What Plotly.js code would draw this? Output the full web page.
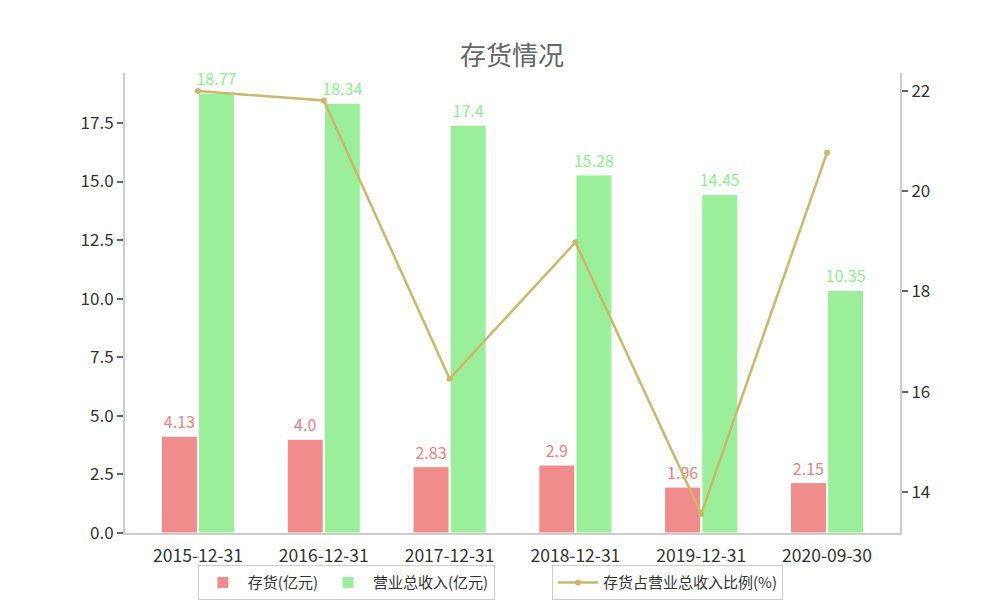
<!DOCTYPE html>
<html>
<head>
<meta charset="utf-8">
<script src="https://cdn.plot.ly/plotly-3.0.1.min.js"></script>
<style>
  body { margin: 0; background: #fff; }
  #chart { width: 1000px; height: 600px; }
</style>
</head>
<body>
<div id="chart"></div>
<script>
const dates = ['2015-12-31', '2016-12-31', '2017-12-31', '2018-12-31', '2019-12-31', '2020-09-30'];
const inventory = [4.13, 4.0, 2.83, 2.9, 1.96, 2.15];
const revenue = [18.77, 18.34, 17.4, 15.28, 14.45, 10.35];
const ratio = [22.0, 21.81, 16.26, 18.98, 13.56, 20.77];

const font = '"Noto Sans CJK SC", "Noto Sans", sans-serif';

// python-style number labels (4.0 stays 4.0)
const label = v => Number.isInteger(v) ? v.toFixed(1) : String(v);

const invTrace = {
  x: dates, y: inventory, type: 'bar', name: '存货(亿元)',
  marker: { color: '#F08C8C', line: { color: '#fff', width: 1 } },
  text: inventory.map(label), textposition: 'outside', constraintext: 'none',
  textfont: { color: '#F08080', size: 16 },
  cliponaxis: false, legend: 'legend', legendgroup: 'inv'
};

const revTrace = {
  x: dates, y: revenue, type: 'bar', name: '营业总收入(亿元)',
  marker: { color: '#9CEF9A', line: { color: '#fff', width: 1 } },
  text: revenue.map(label), textposition: 'outside', constraintext: 'none',
  textfont: { color: '#90EE90', size: 16 },
  cliponaxis: false, legend: 'legend', legendgroup: 'rev'
};

const ratioTrace = {
  x: dates, y: ratio, type: 'scatter', mode: 'lines+markers', yaxis: 'y2',
  name: '存货占营业总收入比例(%)',
  line: { color: '#CBB86C', width: 2.5 },
  marker: { color: '#CBB86C', size: 6 },
  cliponaxis: false, legend: 'legend2'
};

const layout = {
  width: 1000, height: 600,
  margin: { l: 125, r: 100, t: 73, b: 67 },
  paper_bgcolor: '#fff', plot_bgcolor: '#fff',
  font: { family: font, size: 16, color: '#333' },
  title: {
    text: '存货情况', x: 0.512, xanchor: 'center', y: 0.907, yanchor: 'middle',
    font: { family: font, size: 26, color: '#666' }
  },
  barmode: 'group', bargap: 0.41, bargroupgap: 0.03,
  showlegend: true,
  xaxis: {
    type: 'category', range: [-0.58, 5.58],
    showline: true, linecolor: '#ccc', linewidth: 2,
    ticks: '', ticklabelstandoff: 6, showgrid: false, zeroline: false, automargin: false,
    tickfont: { size: 17.5, color: '#333' }
  },
  yaxis: {
    range: [0, 19.63], tickvals: [0, 2.5, 5, 7.5, 10, 12.5, 15, 17.5],
    ticktext: ['0.0', '2.5', '5.0', '7.5', '10.0', '12.5', '15.0', '17.5'],
    showline: true, linecolor: '#ccc', linewidth: 2,
    ticks: 'outside', ticklen: 6, tickcolor: '#666', tickwidth: 1.5,
    showgrid: false, zeroline: false, automargin: false,
    tickfont: { size: 17, color: '#333' }
  },
  yaxis2: {
    overlaying: 'y', side: 'right', range: [13.18, 22.36],
    tickvals: [14, 16, 18, 20, 22],
    showline: true, linecolor: '#ccc', linewidth: 2,
    ticks: 'outside', ticklen: 6, tickcolor: '#666', tickwidth: 1.5,
    showgrid: false, zeroline: false, automargin: false,
    tickfont: { size: 17, color: '#333' }
  },
  legend: {
    orientation: 'h', x: 0.094, xanchor: 'left',
    yref: 'container', y: 0.058, yanchor: 'top',
    bordercolor: '#ccc', borderwidth: 1, bgcolor: '#fff',
    font: { size: 15, color: '#333' }, itemwidth: 40, tracegroupgap: 24
  },
  legend2: {
    orientation: 'h', x: 0.551, xanchor: 'left',
    yref: 'container', y: 0.058, yanchor: 'top',
    bordercolor: '#ccc', borderwidth: 1, bgcolor: '#fff',
    font: { size: 15, color: '#333' }, itemwidth: 40
  }
};

Plotly.newPlot('chart', [invTrace, revTrace, ratioTrace], layout, { displayModeBar: false });
</script>
</body>
</html>
